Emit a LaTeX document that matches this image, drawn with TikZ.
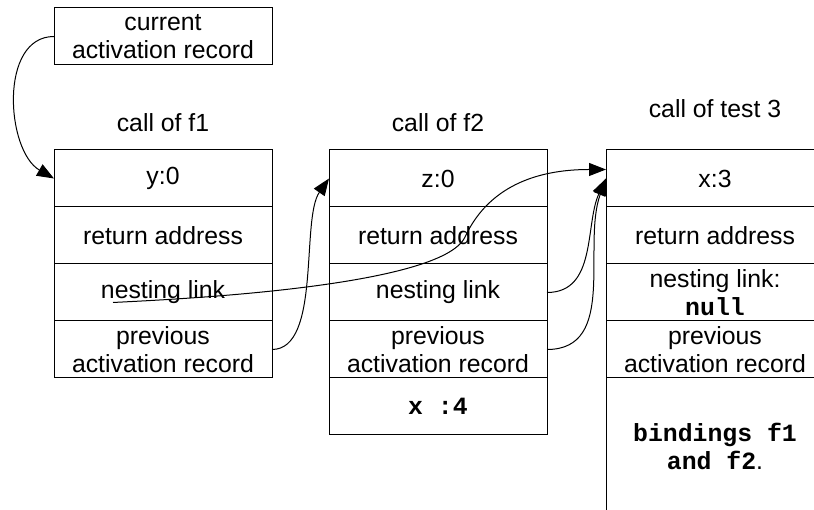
\documentclass[tikz,border=0pt]{standalone}
\usepackage{fontspec}
\setmainfont{Liberation Sans}
\setmonofont{Liberation Mono}
\usetikzlibrary{positioning,arrows.meta}
\tikzset{
  cell/.style={draw, line width=1pt, minimum width=218pt, minimum height=57pt,
    inner sep=0pt, outer sep=0pt, align=center, font=\fontsize{24.8pt}{28pt}\selectfont},
  lbl/.style={font=\fontsize{24.8pt}{28pt}\selectfont},
  link/.style={line width=1pt, -{Triangle[length=17pt,width=13pt]}}
}
\begin{document}
\begin{tikzpicture}[x=1pt,y=1pt]
  \clip (0,0) rectangle (814,510);
  \node[cell] (cur) at (163,473.5) {current\\activation record};
  % call of f1
  \node[lbl] (lf1) at (163,387) {call of f1};
  \node[cell] (f1y) at (163,331.5) {y:0};
  \node[cell, below=0pt of f1y] (f1ret) {return address};
  \node[cell, below=0pt of f1ret] (f1nest) {nesting link};
  \node[cell, below=0pt of f1nest] (f1prev) {previous\\activation record};
  % call of f2
  \node[lbl] (lf2) at (438,387) {call of f2};
  \node[cell] (f2z) at (438,331.5) {z:0};
  \node[cell, below=0pt of f2z] (f2ret) {return address};
  \node[cell, below=0pt of f2ret] (f2nest) {nesting link};
  \node[cell, below=0pt of f2nest] (f2prev) {previous\\activation record};
  \node[cell, below=0pt of f2prev] (f2x) {\texttt{\textbf{x :4}}};
  % call of test 3
  \node[lbl] (lt3) at (715,401) {call of test 3};
  \node[cell] (t3x) at (715,331.5) {x:3};
  \node[cell, below=0pt of t3x] (t3ret) {return address};
  \node[cell, below=0pt of t3ret] (t3nest) {nesting link:\\\texttt{\textbf{null}}};
  \node[cell, below=0pt of t3nest] (t3prev) {previous\\activation record};
  \node[cell, minimum height=136pt, below=0pt of t3prev] (t3bind)
    {\texttt{\textbf{bindings f1}}\\\texttt{\textbf{and f2}}.};
  % links
  \coordinate (f1link) at ([xshift=-50pt,yshift=-10pt]f1nest.center);
  \coordinate (bend) at (465,273);
  \draw[link] (cur.west) to[out=180,in=150] (f1y.west);
  \draw[link] (f1prev.east) to[out=0,in=235,looseness=0.7] (f2z.west);
  \draw[link] (f1link) to[out=3,in=245,looseness=0.4] (bend)
    to[out=65,in=180] ([yshift=9pt]t3x.west);
  \draw[link] (f2nest.east) to[out=0,in=245] (t3x.west);
  \draw[link] (f2prev.east) to[out=0,in=250] (t3x.west);
\end{tikzpicture}
\end{document}
